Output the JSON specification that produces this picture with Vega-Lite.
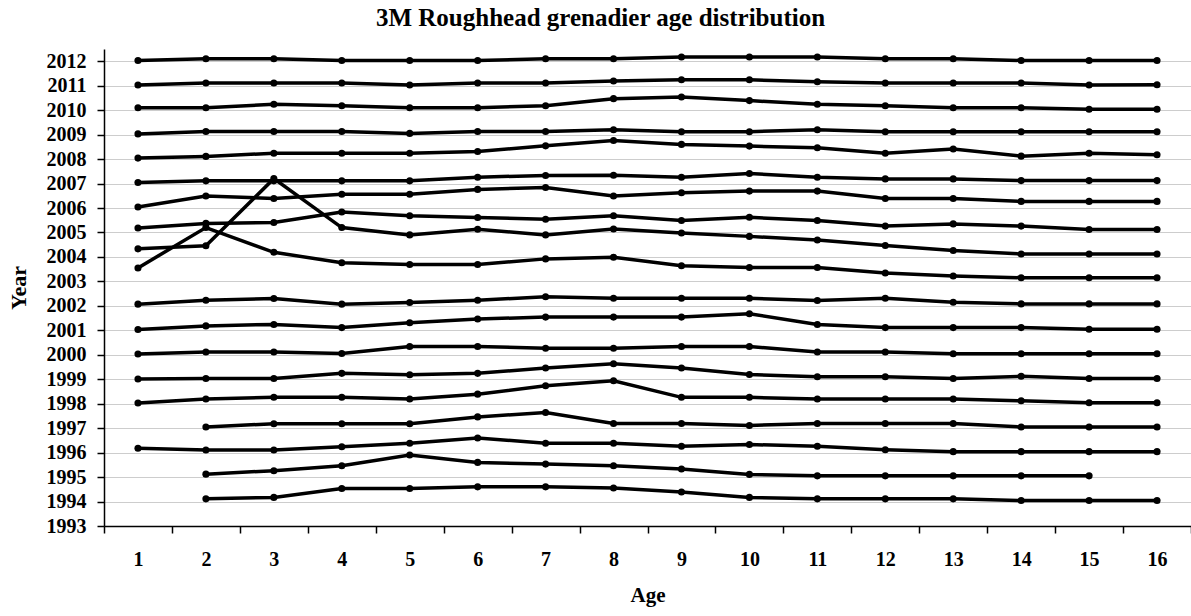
{
"$schema": "https://vega.github.io/schema/vega-lite/v6.json",
"width": 1087, "height": 477,
"autosize": {"type": "none"},
"padding": {"left": 104, "top": 49, "right": 0, "bottom": 90},
"background": "white",
"config": {"view": {"stroke": null}, "font": "Liberation Serif"},
"title": {"text": "3M Roughhead grenadier age distribution", "fontSize": 25, "fontWeight": "bold", "font": "Liberation Serif", "color": "black", "anchor": "middle", "frame": "group", "dx": -47, "offset": 18},
"data": {"values": [
{"year":2012,"age":1,"v":2012.03},{"year":2012,"age":2,"v":2012.10},{"year":2012,"age":3,"v":2012.10},{"year":2012,"age":4,"v":2012.03},{"year":2012,"age":5,"v":2012.03},{"year":2012,"age":6,"v":2012.03},{"year":2012,"age":7,"v":2012.10},{"year":2012,"age":8,"v":2012.10},{"year":2012,"age":9,"v":2012.17},{"year":2012,"age":10,"v":2012.17},{"year":2012,"age":11,"v":2012.17},{"year":2012,"age":12,"v":2012.10},{"year":2012,"age":13,"v":2012.10},{"year":2012,"age":14,"v":2012.03},{"year":2012,"age":15,"v":2012.03},{"year":2012,"age":16,"v":2012.03},
{"year":2011,"age":1,"v":2011.03},{"year":2011,"age":2,"v":2011.11},{"year":2011,"age":3,"v":2011.11},{"year":2011,"age":4,"v":2011.11},{"year":2011,"age":5,"v":2011.03},{"year":2011,"age":6,"v":2011.11},{"year":2011,"age":7,"v":2011.11},{"year":2011,"age":8,"v":2011.19},{"year":2011,"age":9,"v":2011.24},{"year":2011,"age":10,"v":2011.24},{"year":2011,"age":11,"v":2011.16},{"year":2011,"age":12,"v":2011.11},{"year":2011,"age":13,"v":2011.11},{"year":2011,"age":14,"v":2011.11},{"year":2011,"age":15,"v":2011.03},{"year":2011,"age":16,"v":2011.04},
{"year":2010,"age":1,"v":2010.10},{"year":2010,"age":2,"v":2010.10},{"year":2010,"age":3,"v":2010.24},{"year":2010,"age":4,"v":2010.18},{"year":2010,"age":5,"v":2010.10},{"year":2010,"age":6,"v":2010.10},{"year":2010,"age":7,"v":2010.18},{"year":2010,"age":8,"v":2010.47},{"year":2010,"age":9,"v":2010.54},{"year":2010,"age":10,"v":2010.39},{"year":2010,"age":11,"v":2010.24},{"year":2010,"age":12,"v":2010.18},{"year":2010,"age":13,"v":2010.10},{"year":2010,"age":14,"v":2010.10},{"year":2010,"age":15,"v":2010.04},{"year":2010,"age":16,"v":2010.04},
{"year":2009,"age":1,"v":2009.03},{"year":2009,"age":2,"v":2009.13},{"year":2009,"age":3,"v":2009.13},{"year":2009,"age":4,"v":2009.13},{"year":2009,"age":5,"v":2009.05},{"year":2009,"age":6,"v":2009.13},{"year":2009,"age":7,"v":2009.13},{"year":2009,"age":8,"v":2009.20},{"year":2009,"age":9,"v":2009.12},{"year":2009,"age":10,"v":2009.12},{"year":2009,"age":11,"v":2009.20},{"year":2009,"age":12,"v":2009.12},{"year":2009,"age":13,"v":2009.12},{"year":2009,"age":14,"v":2009.12},{"year":2009,"age":15,"v":2009.12},{"year":2009,"age":16,"v":2009.12},
{"year":2008,"age":1,"v":2008.04},{"year":2008,"age":2,"v":2008.11},{"year":2008,"age":3,"v":2008.24},{"year":2008,"age":4,"v":2008.24},{"year":2008,"age":5,"v":2008.24},{"year":2008,"age":6,"v":2008.31},{"year":2008,"age":7,"v":2008.54},{"year":2008,"age":8,"v":2008.76},{"year":2008,"age":9,"v":2008.60},{"year":2008,"age":10,"v":2008.53},{"year":2008,"age":11,"v":2008.46},{"year":2008,"age":12,"v":2008.24},{"year":2008,"age":13,"v":2008.41},{"year":2008,"age":14,"v":2008.12},{"year":2008,"age":15,"v":2008.24},{"year":2008,"age":16,"v":2008.18},
{"year":2007,"age":1,"v":2007.04},{"year":2007,"age":2,"v":2007.11},{"year":2007,"age":3,"v":2007.11},{"year":2007,"age":4,"v":2007.11},{"year":2007,"age":5,"v":2007.11},{"year":2007,"age":6,"v":2007.26},{"year":2007,"age":7,"v":2007.33},{"year":2007,"age":8,"v":2007.34},{"year":2007,"age":9,"v":2007.26},{"year":2007,"age":10,"v":2007.41},{"year":2007,"age":11,"v":2007.26},{"year":2007,"age":12,"v":2007.19},{"year":2007,"age":13,"v":2007.19},{"year":2007,"age":14,"v":2007.12},{"year":2007,"age":15,"v":2007.12},{"year":2007,"age":16,"v":2007.12},
{"year":2006,"age":1,"v":2006.04},{"year":2006,"age":2,"v":2006.49},{"year":2006,"age":3,"v":2006.39},{"year":2006,"age":4,"v":2006.56},{"year":2006,"age":5,"v":2006.56},{"year":2006,"age":6,"v":2006.76},{"year":2006,"age":7,"v":2006.84},{"year":2006,"age":8,"v":2006.49},{"year":2006,"age":9,"v":2006.62},{"year":2006,"age":10,"v":2006.69},{"year":2006,"age":11,"v":2006.69},{"year":2006,"age":12,"v":2006.39},{"year":2006,"age":13,"v":2006.39},{"year":2006,"age":14,"v":2006.27},{"year":2006,"age":15,"v":2006.27},{"year":2006,"age":16,"v":2006.27},
{"year":2005,"age":1,"v":2005.18},{"year":2005,"age":2,"v":2005.37},{"year":2005,"age":3,"v":2005.41},{"year":2005,"age":4,"v":2005.84},{"year":2005,"age":5,"v":2005.68},{"year":2005,"age":6,"v":2005.61},{"year":2005,"age":7,"v":2005.54},{"year":2005,"age":8,"v":2005.68},{"year":2005,"age":9,"v":2005.49},{"year":2005,"age":10,"v":2005.62},{"year":2005,"age":11,"v":2005.49},{"year":2005,"age":12,"v":2005.26},{"year":2005,"age":13,"v":2005.35},{"year":2005,"age":14,"v":2005.26},{"year":2005,"age":15,"v":2005.12},{"year":2005,"age":16,"v":2005.12},
{"year":2004,"age":1,"v":2004.33},{"year":2004,"age":2,"v":2004.46},{"year":2004,"age":3,"v":2007.20},{"year":2004,"age":4,"v":2005.20},{"year":2004,"age":5,"v":2004.90},{"year":2004,"age":6,"v":2005.13},{"year":2004,"age":7,"v":2004.90},{"year":2004,"age":8,"v":2005.14},{"year":2004,"age":9,"v":2004.98},{"year":2004,"age":10,"v":2004.84},{"year":2004,"age":11,"v":2004.69},{"year":2004,"age":12,"v":2004.47},{"year":2004,"age":13,"v":2004.26},{"year":2004,"age":14,"v":2004.12},{"year":2004,"age":15,"v":2004.12},{"year":2004,"age":16,"v":2004.12},
{"year":2003,"age":1,"v":2003.55},{"year":2003,"age":2,"v":2005.20},{"year":2003,"age":3,"v":2004.19},{"year":2003,"age":4,"v":2003.76},{"year":2003,"age":5,"v":2003.69},{"year":2003,"age":6,"v":2003.69},{"year":2003,"age":7,"v":2003.92},{"year":2003,"age":8,"v":2003.99},{"year":2003,"age":9,"v":2003.64},{"year":2003,"age":10,"v":2003.57},{"year":2003,"age":11,"v":2003.57},{"year":2003,"age":12,"v":2003.34},{"year":2003,"age":13,"v":2003.22},{"year":2003,"age":14,"v":2003.15},{"year":2003,"age":15,"v":2003.15},{"year":2003,"age":16,"v":2003.15},
{"year":2002,"age":1,"v":2002.07},{"year":2002,"age":2,"v":2002.23},{"year":2002,"age":3,"v":2002.30},{"year":2002,"age":4,"v":2002.07},{"year":2002,"age":5,"v":2002.14},{"year":2002,"age":6,"v":2002.23},{"year":2002,"age":7,"v":2002.37},{"year":2002,"age":8,"v":2002.31},{"year":2002,"age":9,"v":2002.31},{"year":2002,"age":10,"v":2002.31},{"year":2002,"age":11,"v":2002.22},{"year":2002,"age":12,"v":2002.31},{"year":2002,"age":13,"v":2002.15},{"year":2002,"age":14,"v":2002.08},{"year":2002,"age":15,"v":2002.08},{"year":2002,"age":16,"v":2002.08},
{"year":2001,"age":1,"v":2001.03},{"year":2001,"age":2,"v":2001.18},{"year":2001,"age":3,"v":2001.24},{"year":2001,"age":4,"v":2001.11},{"year":2001,"age":5,"v":2001.31},{"year":2001,"age":6,"v":2001.46},{"year":2001,"age":7,"v":2001.54},{"year":2001,"age":8,"v":2001.54},{"year":2001,"age":9,"v":2001.54},{"year":2001,"age":10,"v":2001.68},{"year":2001,"age":11,"v":2001.24},{"year":2001,"age":12,"v":2001.11},{"year":2001,"age":13,"v":2001.11},{"year":2001,"age":14,"v":2001.11},{"year":2001,"age":15,"v":2001.04},{"year":2001,"age":16,"v":2001.04},
{"year":2000,"age":1,"v":2000.03},{"year":2000,"age":2,"v":2000.11},{"year":2000,"age":3,"v":2000.11},{"year":2000,"age":4,"v":2000.05},{"year":2000,"age":5,"v":2000.34},{"year":2000,"age":6,"v":2000.34},{"year":2000,"age":7,"v":2000.27},{"year":2000,"age":8,"v":2000.27},{"year":2000,"age":9,"v":2000.34},{"year":2000,"age":10,"v":2000.34},{"year":2000,"age":11,"v":2000.11},{"year":2000,"age":12,"v":2000.11},{"year":2000,"age":13,"v":2000.04},{"year":2000,"age":14,"v":2000.04},{"year":2000,"age":15,"v":2000.04},{"year":2000,"age":16,"v":2000.04},
{"year":1999,"age":1,"v":1999.01},{"year":1999,"age":2,"v":1999.03},{"year":1999,"age":3,"v":1999.03},{"year":1999,"age":4,"v":1999.24},{"year":1999,"age":5,"v":1999.18},{"year":1999,"age":6,"v":1999.24},{"year":1999,"age":7,"v":1999.46},{"year":1999,"age":8,"v":1999.63},{"year":1999,"age":9,"v":1999.46},{"year":1999,"age":10,"v":1999.19},{"year":1999,"age":11,"v":1999.10},{"year":1999,"age":12,"v":1999.10},{"year":1999,"age":13,"v":1999.03},{"year":1999,"age":14,"v":1999.12},{"year":1999,"age":15,"v":1999.03},{"year":1999,"age":16,"v":1999.03},
{"year":1998,"age":1,"v":1998.03},{"year":1998,"age":2,"v":1998.19},{"year":1998,"age":3,"v":1998.26},{"year":1998,"age":4,"v":1998.26},{"year":1998,"age":5,"v":1998.19},{"year":1998,"age":6,"v":1998.39},{"year":1998,"age":7,"v":1998.73},{"year":1998,"age":8,"v":1998.94},{"year":1998,"age":9,"v":1998.26},{"year":1998,"age":10,"v":1998.26},{"year":1998,"age":11,"v":1998.19},{"year":1998,"age":12,"v":1998.19},{"year":1998,"age":13,"v":1998.19},{"year":1998,"age":14,"v":1998.12},{"year":1998,"age":15,"v":1998.04},{"year":1998,"age":16,"v":1998.04},
{"year":1997,"age":2,"v":1997.05},{"year":1997,"age":3,"v":1997.18},{"year":1997,"age":4,"v":1997.18},{"year":1997,"age":5,"v":1997.18},{"year":1997,"age":6,"v":1997.46},{"year":1997,"age":7,"v":1997.64},{"year":1997,"age":8,"v":1997.19},{"year":1997,"age":9,"v":1997.19},{"year":1997,"age":10,"v":1997.11},{"year":1997,"age":11,"v":1997.19},{"year":1997,"age":12,"v":1997.19},{"year":1997,"age":13,"v":1997.19},{"year":1997,"age":14,"v":1997.05},{"year":1997,"age":15,"v":1997.05},{"year":1997,"age":16,"v":1997.05},
{"year":1996,"age":1,"v":1996.18},{"year":1996,"age":2,"v":1996.11},{"year":1996,"age":3,"v":1996.11},{"year":1996,"age":4,"v":1996.24},{"year":1996,"age":5,"v":1996.38},{"year":1996,"age":6,"v":1996.60},{"year":1996,"age":7,"v":1996.38},{"year":1996,"age":8,"v":1996.38},{"year":1996,"age":9,"v":1996.26},{"year":1996,"age":10,"v":1996.33},{"year":1996,"age":11,"v":1996.26},{"year":1996,"age":12,"v":1996.12},{"year":1996,"age":13,"v":1996.04},{"year":1996,"age":14,"v":1996.04},{"year":1996,"age":15,"v":1996.04},{"year":1996,"age":16,"v":1996.04},
{"year":1995,"age":2,"v":1995.12},{"year":1995,"age":3,"v":1995.26},{"year":1995,"age":4,"v":1995.46},{"year":1995,"age":5,"v":1995.90},{"year":1995,"age":6,"v":1995.60},{"year":1995,"age":7,"v":1995.53},{"year":1995,"age":8,"v":1995.46},{"year":1995,"age":9,"v":1995.33},{"year":1995,"age":10,"v":1995.11},{"year":1995,"age":11,"v":1995.05},{"year":1995,"age":12,"v":1995.05},{"year":1995,"age":13,"v":1995.05},{"year":1995,"age":14,"v":1995.05},{"year":1995,"age":15,"v":1995.05},
{"year":1994,"age":2,"v":1994.11},{"year":1994,"age":3,"v":1994.17},{"year":1994,"age":4,"v":1994.53},{"year":1994,"age":5,"v":1994.53},{"year":1994,"age":6,"v":1994.60},{"year":1994,"age":7,"v":1994.60},{"year":1994,"age":8,"v":1994.55},{"year":1994,"age":9,"v":1994.39},{"year":1994,"age":10,"v":1994.17},{"year":1994,"age":11,"v":1994.11},{"year":1994,"age":12,"v":1994.11},{"year":1994,"age":13,"v":1994.11},{"year":1994,"age":14,"v":1994.04},{"year":1994,"age":15,"v":1994.04},{"year":1994,"age":16,"v":1994.04}
]},
"encoding": {
  "x": {"field": "age", "type": "ordinal", "bandPosition": 0.5,
        "scale": {"type": "band", "paddingInner": 0, "paddingOuter": 0, "domain": [1,2,3,4,5,6,7,8,9,10,11,12,13,14,15,16]},
        "axis": {"title": "Age", "tickBand": "extent", "labelAngle": 0, "grid": false, "domainColor": "black", "domainWidth": 1.5, "tickColor": "black", "tickWidth": 1.5, "tickSize": 7, "labelPadding": 16, "labelFontSize": 20, "labelFontWeight": "bold", "labelFont": "Liberation Serif", "labelColor": "black", "titleFontSize": 21, "titleFontWeight": "bold", "titleFont": "Liberation Serif", "titleColor": "black", "titlePadding": 15}},
  "y": {"field": "v", "type": "quantitative",
        "scale": {"domain": [1993, 2012.5], "nice": false, "zero": false},
        "axis": {"title": "Year", "values": [1993,1994,1995,1996,1997,1998,1999,2000,2001,2002,2003,2004,2005,2006,2007,2008,2009,2010,2011,2012], "format": "d", "grid": true, "gridColor": "#9a9a9a", "gridDash": [1, 1], "gridWidth": 1, "domainColor": "black", "domainWidth": 1.5, "tickColor": "black", "tickWidth": 1.5, "tickSize": 7, "labelPadding": 11, "labelFontSize": 20, "labelFontWeight": "bold", "labelFont": "Liberation Serif", "labelColor": "black", "titleFontSize": 22, "titleFontWeight": "bold", "titleFont": "Liberation Serif", "titleColor": "black", "titlePadding": 16}},
  "detail": {"field": "year", "type": "nominal"},
  "order": {"field": "age", "type": "quantitative"}
},
"layer": [
  {"mark": {"type": "line", "color": "black", "strokeWidth": 3.5}},
  {"mark": {"type": "circle", "color": "black", "opacity": 1, "size": 50}}
]
}
